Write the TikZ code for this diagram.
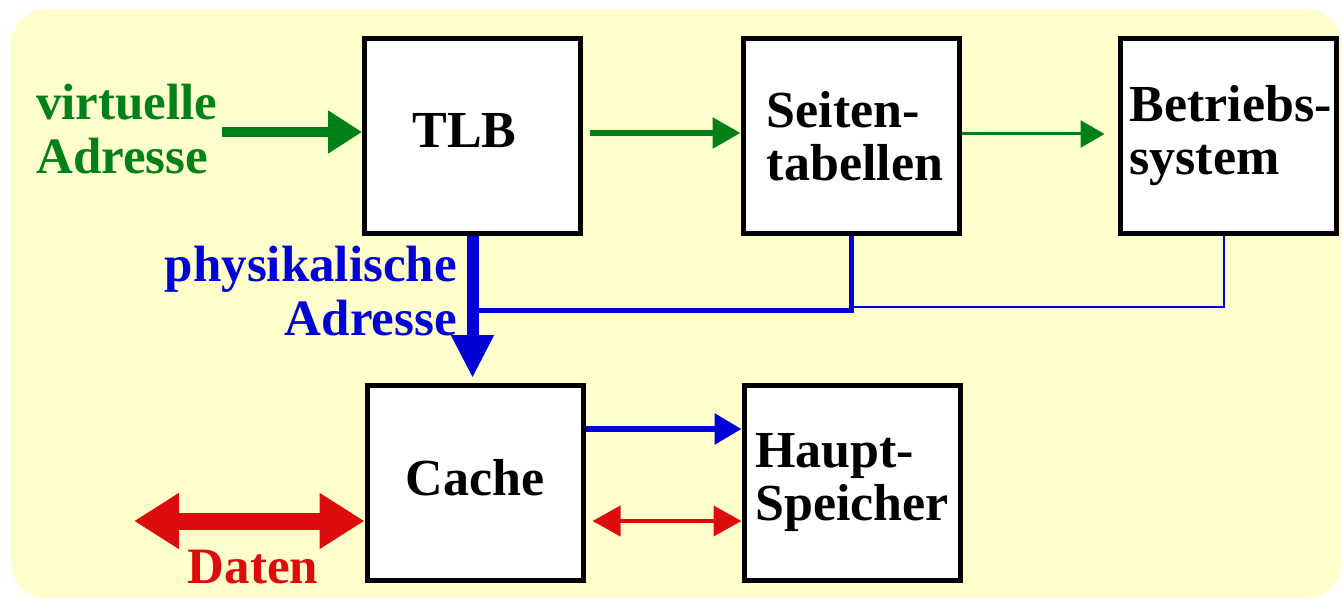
\documentclass[tikz,border=0pt]{standalone}
\usepackage{fontspec}
\setmainfont{Liberation Serif}
\usetikzlibrary{arrows.meta}
\definecolor{bgyellow}{RGB}{255,255,204}
\definecolor{vgreen}{RGB}{0,128,24}
\definecolor{pblue}{RGB}{0,0,215}
\definecolor{dred}{RGB}{220,12,12}

\begin{document}
\begin{tikzpicture}[x=1pt,y=-1pt,
  unit/.style={draw=black, line width=5pt, fill=white, minimum width=216pt,
    minimum height=195pt, inner sep=0pt, align=left,
    font=\bfseries\fontsize{52}{53}\selectfont},
  oneline/.style={text depth=12pt},
  lbl/.style={inner sep=0pt, font=\bfseries\fontsize{51}{54}\selectfont},
]
\useasboundingbox (0,0) rectangle (1342,599);
\fill[bgyellow, rounded corners=36pt] (11,9) rectangle (1342,598);

% functional units
\node[unit, oneline] (tlb) at (472.5,136) {TLB\hspace*{16pt}};
\node[unit] (seiten) at (851,136)   {\hspace*{8pt}Seiten-\\\hspace*{8pt}tabellen};
\node[unit] (betr)   at (1228,136)  {\hspace*{5pt}Betriebs-\\\hspace*{5pt}system};
\node[unit, oneline] (cache) at (475,483) {Cache};
\node[unit] (haupt)  at (852,483)   {Haupt-\\Speicher};

% labels
\node[lbl, text=vgreen, align=left, anchor=north west] (virt) at (36,84) {virtuelle\\Adresse};
\node[lbl, text=pblue, align=right, anchor=north east] (phys) at (457,246) {physikalische\\Adresse};
\node[lbl, text=dred, anchor=base] (daten) at (253,583) {Daten};

% free ends and junctions
\coordinate (vin) at (222,132);
\coordinate (din) at (134,521);
\coordinate (pj)  at (472.5,310);
\coordinate (pk)  at (851,307);

% virtual address path
\draw[vgreen, line width=10pt, -{Triangle[length=34pt,width=41pt]}]
  (vin) -- (vin -| tlb.west);
\draw[vgreen, line width=6pt, -{Triangle[length=28pt,width=30pt]}]
  ([xshift=7pt,yshift=3pt]tlb.east) -- ([yshift=3pt]seiten.west);
\draw[vgreen, line width=3pt, -{Triangle[length=24pt,width=27pt]}]
  ([yshift=2pt]seiten.east) -- ([xshift=-13pt,yshift=2pt]betr.west);

% physical address path
\draw[pblue, line width=2pt] ([xshift=-4pt]betr.south) |- (pk);
\draw[pblue, line width=5pt, line join=miter] (seiten.south) |- (pj);
\draw[pblue, line width=12pt, -{Triangle[length=43pt,width=40pt]}]
  (tlb.south) -- ([yshift=5pt]tlb.south |- cache.north);
\draw[pblue, line width=6pt, -{Triangle[length=27pt,width=30pt]}]
  ([yshift=54pt]cache.east) -- ([yshift=54pt]haupt.west);

% data path
\draw[dred, line width=17pt, {Triangle[length=45pt,width=53pt]}-{Triangle[length=45pt,width=53pt]}]
  (din) -- (din -| cache.west);
\draw[dred, line width=4pt, {Triangle[length=28pt,width=30pt]}-{Triangle[length=28pt,width=30pt]}]
  ([xshift=7pt,yshift=-38pt]cache.east) -- ([yshift=-38pt]haupt.west);
\end{tikzpicture}
\end{document}
